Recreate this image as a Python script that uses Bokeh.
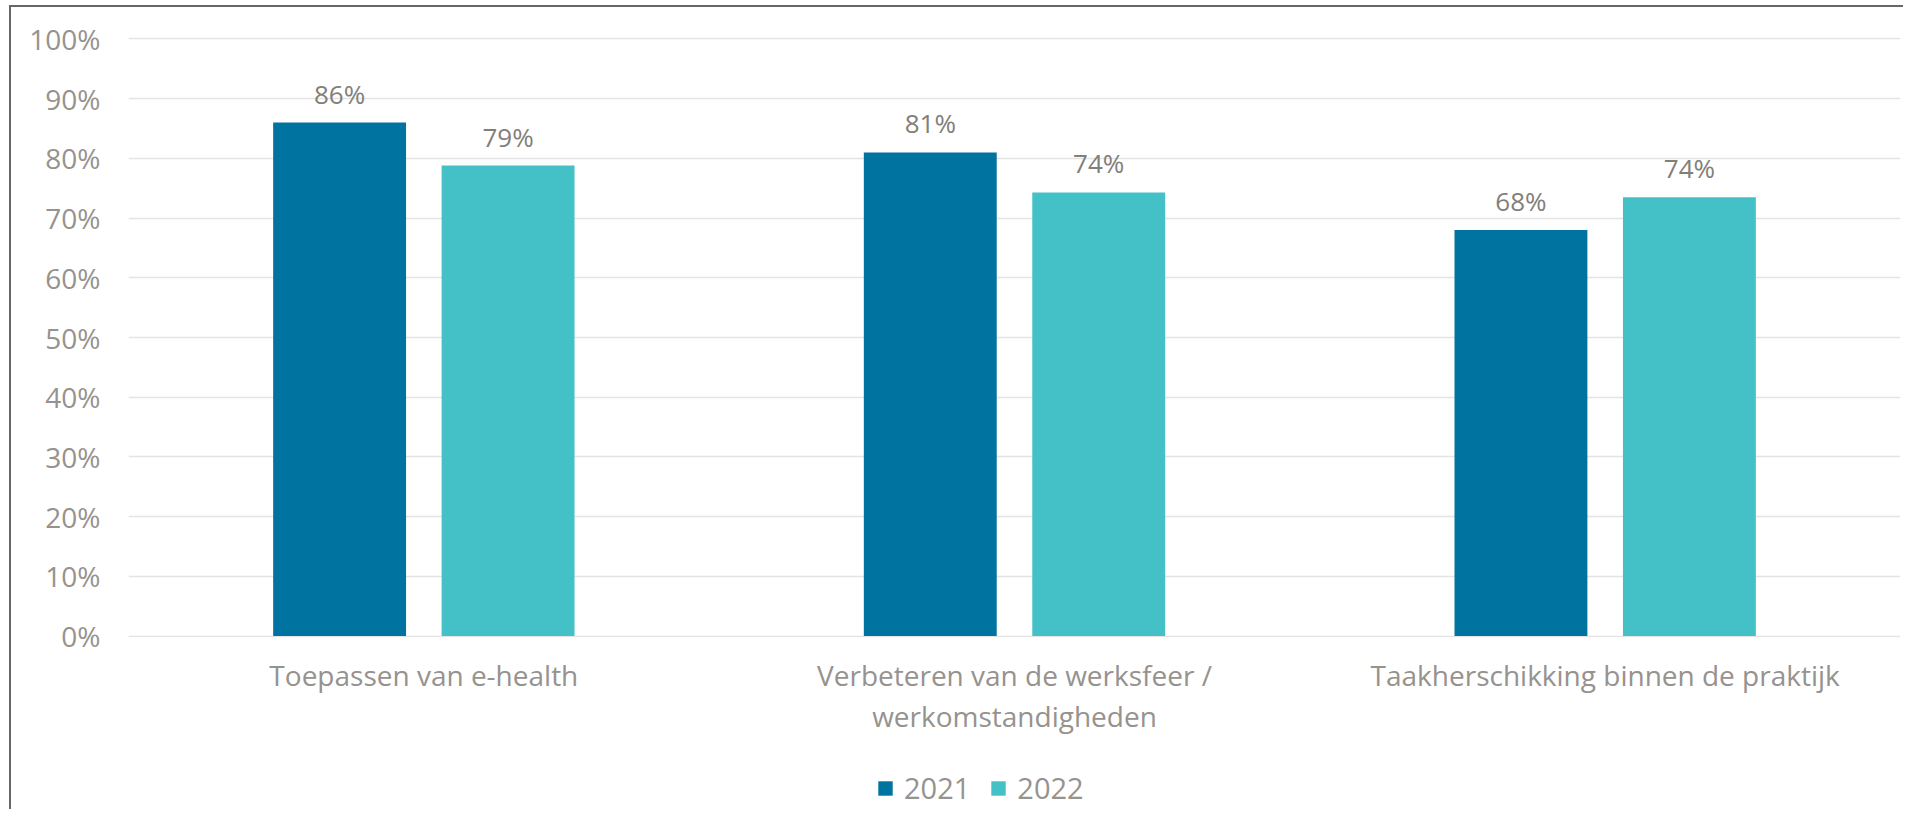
from bokeh.plotting import figure
from bokeh.models import (ColumnDataSource, FactorRange, Range1d, LabelSet,
                          Legend, LegendItem, FixedTicker)
from bokeh.layouts import column
from bokeh.core.properties import value
from bokeh.transform import dodge
from bokeh.embed import file_html
from bokeh.resources import INLINE

categories = ["Toepassen van e-health",
              "Verbeteren van de werksfeer /\nwerkomstandigheden",
              "Taakherschikking binnen de praktijk"]
series = ["2021", "2022"]
values_2021 = [86, 81, 68]
values_2022 = [78.8, 74.3, 73.5]
labels_2021 = ["86%", "81%", "68%"]
labels_2022 = ["79%", "74%", "74%"]
y_ticks = list(range(0, 101, 10))
y_tick_labels = [f"{t}%" for t in y_ticks]

colors = ["#0173A0", "#43C1C7"]
tick_color = "#96928E"
label_color = "#827E7A"
FONT = "Open Sans"
W = 1892

src = ColumnDataSource(dict(cat=categories, v21=values_2021, v22=values_2022,
                            l21=labels_2021, l22=labels_2022))

xr = FactorRange(factors=categories, range_padding=0)
p = figure(x_range=xr, y_range=Range1d(-0.25, 100.25),
           width=W, height=740, output_backend="svg", toolbar_location=None,
           min_border_left=117, min_border_right=3, min_border_top=30,
           min_border_bottom=110)
p.outline_line_color = None
p.xgrid.grid_line_color = None
p.ygrid.grid_line_color = "#E4E4E4"
p.ygrid.grid_line_width = 1.6

off = 0.1426
bw = 0.225
r1 = p.vbar(x=dodge("cat", -off, range=xr), top="v21", width=bw,
            source=src, fill_color=colors[0], line_color=None)
r2 = p.vbar(x=dodge("cat", off, range=xr), top="v22", width=bw,
            source=src, fill_color=colors[1], line_color=None)

for xo, col, vcol in [(-off, "l21", "v21"), (off, "l22", "v22")]:
    ls = LabelSet(x=dodge("cat", xo, range=xr), y=vcol,
                  text=col, source=src, text_align="center",
                  text_baseline="alphabetic", y_offset=19,
                  text_font=value(FONT), text_font_size=value("26px"),
                  text_color=label_color)
    p.add_layout(ls)

p.yaxis.ticker = FixedTicker(ticks=y_ticks)
p.yaxis.major_label_overrides = {t: l for t, l in zip(y_ticks, y_tick_labels)}
for ax in (p.xaxis, p.yaxis):
    ax.axis_line_color = None
    ax.major_tick_line_color = None
    ax.minor_tick_line_color = None
    ax.major_tick_out = 0
    ax.major_label_text_font = FONT
    ax.major_label_text_font_size = "28px"
    ax.major_label_text_color = tick_color
p.yaxis.major_label_standoff = 28
p.xaxis.major_label_standoff = 18
p.xaxis.major_label_text_line_height = 1.1

# legend strip below the chart (same series, same colours)
q = figure(x_range=xr, y_range=Range1d(0, 1), width=W, height=62,
           output_backend="svg", toolbar_location=None,
           x_axis_type=None, y_axis_type=None, min_border=0)
q.outline_line_color = None
q.grid.visible = False
q1 = q.vbar(x=dodge("cat", -off, range=xr), top="v21", width=bw, source=src,
            fill_color=colors[0], line_color=None, visible=False)
q2 = q.vbar(x=dodge("cat", off, range=xr), top="v22", width=bw, source=src,
            fill_color=colors[1], line_color=None, visible=False)
legend = Legend(items=[LegendItem(label=series[0], renderers=[q1]),
                       LegendItem(label=series[1], renderers=[q2])],
                orientation="horizontal", location=(748, 2),
                border_line_color=None, background_fill_alpha=0,
                padding=0, margin=0, glyph_width=18, glyph_height=18,
                label_standoff=10, spacing=19,
                label_text_font=FONT, label_text_font_size="29px",
                label_text_color=tick_color)
q.add_layout(legend)

layout = column(p, q, spacing=0)
layout.styles = {"border-left": "2px solid #6B6663", "border-top": "2px solid #6B6663",
                 "margin-left": "9px", "margin-top": "5px"}

open("out.html", "w").write(file_html(layout, INLINE))
